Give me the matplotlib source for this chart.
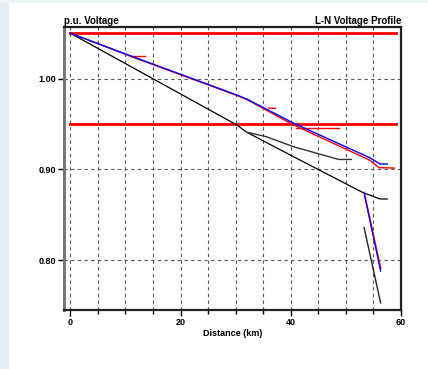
import numpy as np
import matplotlib.pyplot as plt
from matplotlib.patches import Rectangle

plt.rcParams['font.family'] = ['Liberation Sans Narrow', 'Liberation Sans', 'DejaVu Sans']

# voltage limits
lim_hi = 1.05
lim_lo = 0.95
lim_x = [0, 59]

# phase profiles (distance km, voltage p.u.)
blue_x = [0, 11.4, 30.2, 32.0, 40.5, 54.4, 56.2, 57.5]
blue_y = [1.05, 1.024, 0.982, 0.9776, 0.951, 0.9127, 0.906, 0.906]
red_x = [0, 11.4, 30.2, 32.0, 40.5, 54.4, 56.0, 58.8]
red_y = [1.05, 1.0235, 0.9815, 0.977, 0.949, 0.910, 0.902, 0.9015]
black_x = [0, 30.2, 32.0, 40.5, 53.1, 56.2, 57.5]
black_y = [1.05, 0.949, 0.941, 0.914, 0.8745, 0.8675, 0.8675]
black2_x = [32.0, 35.6, 40.5, 48.7, 51.0]
black2_y = [0.941, 0.936, 0.925, 0.911, 0.911]

# lateral branch
lat_x = [53.3, 56.3]
lat_blue = [0.8745, 0.788]
lat_red = [0.8745, 0.791]
lat_black_x = [53.3, 56.3]
lat_black = [0.836, 0.753]

# small red stubs
stub_x = [[10.8, 13.5], [36.0, 37.2], [41.0, 48.7]]
stub_y = [[1.025, 1.025], [0.9676, 0.9672], [0.9454, 0.9454]]

fig = plt.figure(figsize=(4.28, 3.69), dpi=100)
fig.patches.append(Rectangle((0, 0), 0.021, 1, transform=fig.transFigure,
                             facecolor='#e3edf2', edgecolor='none'))
fig.patches.append(Rectangle((0, 0.993), 1, 0.007, transform=fig.transFigure,
                             facecolor='#eef3f6', edgecolor='none'))
ax = fig.add_axes([0.1495, 0.160, 0.7875, 0.767])

ax.set_xlim(-1.15, 60)
ax.set_ylim(0.7453, 1.0569)

ax.plot(lim_x, [lim_hi, lim_hi], color='red', lw=2)
ax.plot(lim_x, [lim_lo, lim_lo], color='red', lw=2)

for sx, sy in zip(stub_x, stub_y):
    ax.plot(sx, sy, color='red', lw=1)

ax.plot(black_x, black_y, color='black', lw=0.9)
ax.plot(black2_x, black2_y, color='#333333', lw=1)
ax.plot(red_x, red_y, color='red', lw=1)
ax.plot(blue_x, blue_y, color='blue', lw=1)
ax.plot(lat_x, lat_red, color='red', lw=1.2)
ax.plot(lat_x, lat_blue, color='blue', lw=0.9)
ax.plot(lat_black_x, lat_black, color='#222222', lw=1)

ax.set_xticks([0, 20, 40, 60])
ax.set_xticks(np.arange(0, 61, 5), minor=True)
ax.set_yticks([0.80, 0.90, 1.00])
ax.set_yticklabels(['0.80', '0.90', '1.00'])
ax.tick_params(axis='both', labelsize=6.5, length=4, width=1, pad=2)
ax.tick_params(axis='x', which='minor', length=3, width=1)
for lab in ax.get_xticklabels() + ax.get_yticklabels():
    lab.set_fontweight('bold')

ax.grid(True, which='both', axis='x', linestyle=(0, (3, 3)), color='#555555', lw=0.8)
ax.grid(True, which='major', axis='y', linestyle=(0, (3, 3)), color='#555555', lw=0.8)

for s in ax.spines.values():
    s.set_linewidth(1.6)
ax.spines['left'].set_color('#777777')
ax.spines['left'].set_linewidth(2.2)
ax.spines['top'].set_color('#222222')
ax.spines['right'].set_color('#222222')
ax.spines['bottom'].set_color('#222222')

ax.set_xlabel('Distance (km)', fontsize=6.5, fontweight='bold', labelpad=1)
ax.text(0.0, 1.003, 'p.u. Voltage', transform=ax.transAxes, fontsize=7,
        fontweight='bold', ha='left', va='bottom')
ax.text(1.0, 1.003, 'L-N Voltage Profile', transform=ax.transAxes, fontsize=7,
        fontweight='bold', ha='right', va='bottom')

fig.savefig('out.png', dpi=100)
